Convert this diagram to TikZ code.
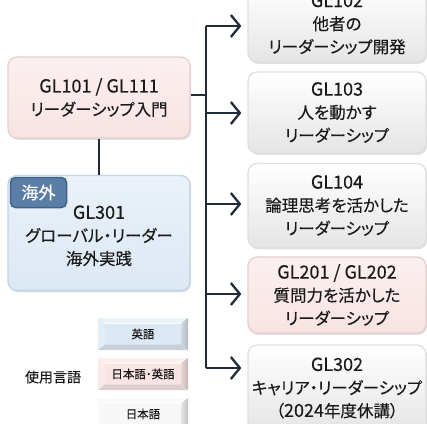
\documentclass[tikz,border=0pt]{standalone}
\usepackage{fontspec}
\setmainfont{Noto Sans CJK JP}[RawFeature=+palt, FakeBold=0.3]
\usetikzlibrary{arrows.meta,shadows}
\definecolor{lineC}{HTML}{222C3A}
\definecolor{pinkF}{HTML}{F9E3E3}
\definecolor{pinkE}{HTML}{E6CFCF}
\definecolor{blueF}{HTML}{DCE8F4}
\definecolor{blueE}{HTML}{C3D3E4}
\definecolor{whiteF}{HTML}{F7F7F7}
\definecolor{tagF}{HTML}{5B7EA7}
\definecolor{tagE}{HTML}{3F628C}
\definecolor{txt}{HTML}{1A1A1A}
\newcommand\latn[1]{{\fontsize{18}{23}\selectfont #1}}
\newcommand\legbox[4]{%
  \node[legface, fill=#3] (#1) at (143,#2) {#4};
  \fill[#3!50!white] (98,#2-16) -- (188,#2-16) -- (#1.north east) -- (#1.north west) -- cycle;
  \fill[#3!80!white] (98,#2-16) -- (#1.north west) -- (#1.south west) -- (98,#2+16) -- cycle;
  \shade[left color=#3!85!gray, right color=#3!55!gray] (188,#2-16) -- (#1.north east) -- (#1.south east) -- (188,#2+16) -- cycle;
  \fill[#3!78!gray] (98,#2+16) -- (#1.south west) -- (#1.south east) -- (188,#2+16) -- cycle;
}
\begin{document}
\begin{tikzpicture}[x=1pt,y=-1pt,
  box/.style={rounded corners=9pt, line width=1.3pt, align=center, text=txt,
    font=\fontsize{16.5}{23}\selectfont, inner sep=0pt,
    drop shadow={shadow xshift=1.2pt, shadow yshift=-1.8pt, opacity=0.25, fill=gray}},
  wbox/.style={box, top color=white, bottom color=whiteF!85!gray, draw=gray!25,
    minimum width=178pt},
  pbox/.style={box, top color=pinkF!55!white, bottom color=pinkF, draw=pinkE},
  bbox/.style={box, top color=blueF!60!white, bottom color=blueF, draw=blueE},
  tag/.style={rounded corners=5pt, fill=tagF, draw=tagE, line width=1.5pt,
    text=white, font=\fontsize{17}{18}\selectfont, minimum width=56pt,
    minimum height=30pt, inner sep=0pt},
  legface/.style={minimum width=76pt, minimum height=21pt, inner sep=0pt,
    font=\fontsize{11.5}{12}\selectfont, text=txt},
  conn/.style={draw=lineC, line width=2.3pt},
  arr/.style={conn, -{Straight Barb[length=9pt,width=22pt]}, shorten >=6pt}
]
\useasboundingbox (0,0) rectangle (427,423);
\clip (0,0) rectangle (427,423);

% left column
\node[pbox, minimum width=182pt, minimum height=81pt] (g101) at (99,97.5)
  {\latn{GL101 / GL111}\\リーダーシップ入門};
\node[bbox, minimum width=182pt, minimum height=115pt] (g301) at (99,233)
  {\\[-4pt]\latn{GL301}\\グローバル・リーダー\\海外実践};
\node[tag] (tagA) at (38.5,192.5) {海外};

% right column
\node[wbox, minimum height=76pt] (g102) at (337,24)
  {\latn{GL102}\\他者の\\リーダーシップ開発};
\node[wbox, minimum height=81pt] (g103) at (337,112.5)
  {\latn{GL103}\\人を動かす\\リーダーシップ};
\node[wbox, minimum height=84pt] (g104) at (337,205.5)
  {\latn{GL104}\\論理思考を活かした\\リーダーシップ};
\node[pbox, minimum width=178pt, minimum height=76pt] (g201) at (337,295)
  {\latn{GL201 / GL202}\\質問力を活かした\\リーダーシップ};
\node[wbox, minimum height=86pt] (g302) at (337,388)
  {\latn{GL302}\\キャリア・リーダーシップ\\（\latn{2024}年度休講）};

% connectors
\coordinate (ttop) at (206,26);
\coordinate (tbot) at (206,368);
\draw[conn] (g101.south) -- (g301.north);
\draw[conn] (g101.east |- 0,95) -- (ttop |- 0,95);
\draw[conn] (ttop) -- (tbot);
\draw[arr] (ttop) -- (g102.west |- ttop);
\draw[arr] (ttop |- 0,113) -- (g103.west |- 0,113);
\draw[arr] (ttop |- 0,204) -- (g104.west |- 0,204);
\draw[arr] (ttop |- 0,294) -- (g201.west |- 0,294);
\draw[arr] (tbot) -- (g302.west |- tbot);

% legend
\node[font=\fontsize{14}{15}\selectfont, text=txt] (leglab) at (53,377) {使用言語};
\legbox{lenA}{334}{blueF}{英語}
\legbox{lenB}{374}{pinkF}{日本語・英語}
\legbox{lenC}{414}{whiteF}{日本語}
\end{tikzpicture}
\end{document}
